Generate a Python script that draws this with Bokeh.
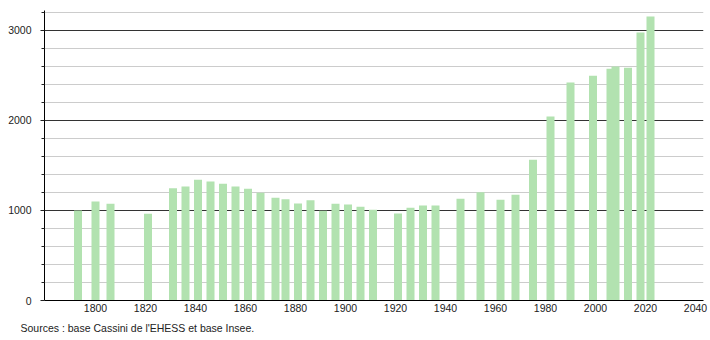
from bokeh.plotting import figure
from bokeh.models import FixedTicker, Range1d, Title, ColumnDataSource
from bokeh.embed import file_html
from bokeh.resources import INLINE

years = [1793, 1800, 1806, 1821, 1831, 1836, 1841, 1846, 1851, 1856, 1861, 1866,
         1872, 1876, 1881, 1886, 1891, 1896, 1901, 1906, 1911, 1921, 1926, 1931,
         1936, 1946, 1954, 1962, 1968, 1975, 1982, 1990, 1999, 2006, 2008, 2013,
         2018, 2022]
population = [1000, 1100, 1074, 963, 1248, 1267, 1341, 1322, 1296, 1267, 1241, 1196,
              1141, 1126, 1078, 1115, 996, 1074, 1067, 1041, 1007, 967, 1030, 1056,
              1056, 1130, 1204, 1119, 1174, 1563, 2044, 2422, 2496, 2574, 2600, 2585,
              2978, 3156]
x_ticks = [1800, 1820, 1840, 1860, 1880, 1900, 1920, 1940, 1960, 1980, 2000, 2020, 2040]
y_ticks = [0, 1000, 2000, 3000]
y_minor = [200, 400, 600, 800, 1200, 1400, 1600, 1800, 2200, 2400, 2600, 2800, 3200]
source_text = "Sources : base Cassini de l'EHESS et base Insee."

FONT = "Liberation Sans"

p = figure(width=710, height=340, output_backend="svg", toolbar_location=None,
           x_range=Range1d(1779.6, 2043.2), y_range=Range1d(0, 3222),
           min_border_left=44, min_border_right=7, min_border_top=10,
           min_border_bottom=40)
p.outline_line_color = None
p.background_fill_color = "white"
p.border_fill_color = "white"

src = ColumnDataSource(dict(x=years, top=population))
p.vbar(x="x", top="top", width=3.2, source=src, fill_color="#b2e2b0",
       line_color=None)

# axes
p.xaxis.ticker = FixedTicker(ticks=x_ticks)
p.xaxis.major_tick_line_color = None
p.xaxis.minor_tick_line_color = None
p.xaxis.major_tick_out = 0
p.xaxis.major_label_standoff = 3
p.xaxis.axis_line_color = "black"
p.xaxis.axis_line_width = 1.2
p.xaxis.major_label_text_font = FONT
p.xaxis.major_label_text_font_size = "10.5px"
p.xaxis.major_label_text_color = "#222222"

p.yaxis.ticker = FixedTicker(ticks=y_ticks, minor_ticks=y_minor)
p.yaxis.major_tick_out = 4
p.yaxis.major_tick_in = 0
p.yaxis.minor_tick_out = 3
p.yaxis.minor_tick_in = 0
p.yaxis.major_tick_line_color = "#222222"
p.yaxis.minor_tick_line_color = "#222222"
p.yaxis.major_label_standoff = 9
p.yaxis.axis_line_color = "black"
p.yaxis.major_label_text_font = FONT
p.yaxis.major_label_text_font_size = "10.5px"
p.yaxis.major_label_text_color = "#222222"

p.xgrid.grid_line_color = None
p.ygrid.grid_line_color = "#333333"
p.ygrid.grid_line_width = 1
p.ygrid.minor_grid_line_color = "#cccccc"
p.ygrid.minor_grid_line_width = 1
p.ygrid.level = "underlay"

note = Title(text=source_text, align="left", offset=-24, standoff=11,
             text_font=FONT, text_font_size="10.5px", text_color="#222222",
             text_font_style="normal")
p.add_layout(note, "below")

open("out.html", "w").write(file_html(p, INLINE))
